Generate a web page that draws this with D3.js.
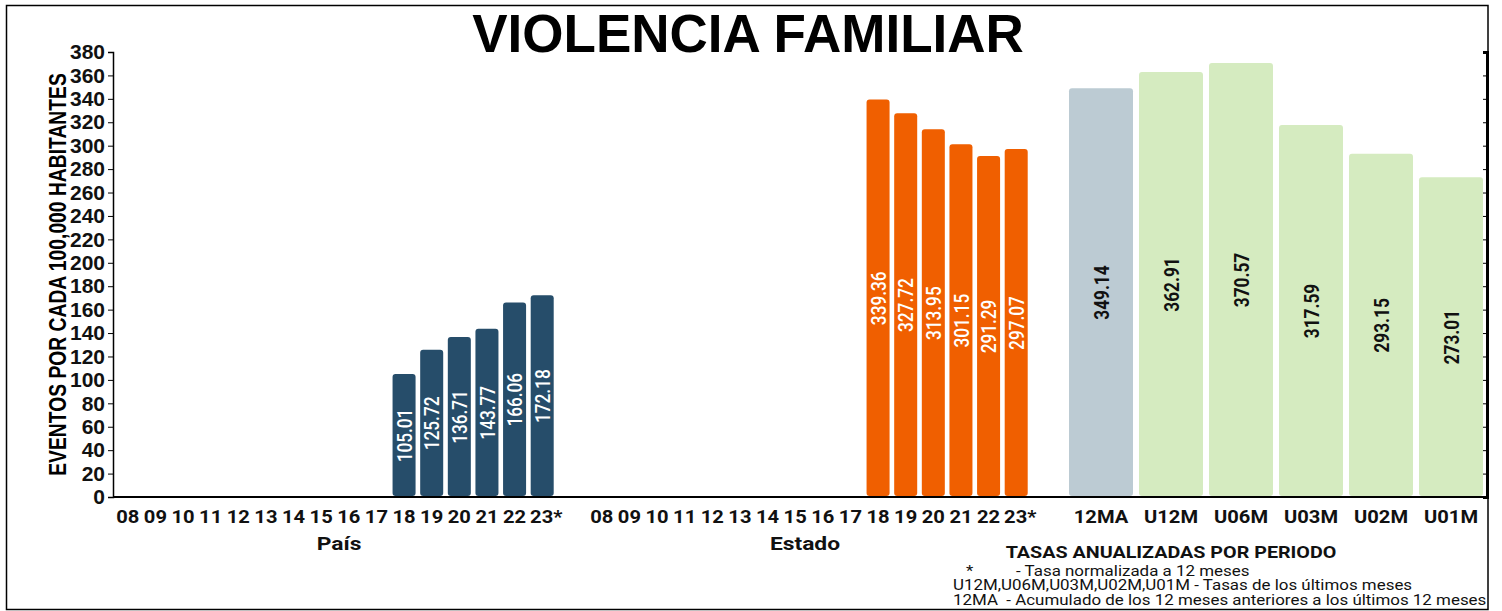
<!DOCTYPE html>
<html>
<head>
<meta charset="utf-8">
<script src="https://cdn.jsdelivr.net/npm/d3@7"></script>
<style>
  body { margin: 0; background: #fff; }
  svg { display: block; }
</style>
</head>
<body>
<div id="chart"></div>
<script>
// years shown on each group axis
const years = ["08", "09", "10", "11", "12", "13", "14", "15", "16", "17", "18", "19", "20", "21", "22", "23*"];
// only the last six years carry data
const paisValues = [null, null, null, null, null, null, null, null, null, null, 105.01, 125.72, 136.71, 143.77, 166.06, 172.18];
const estadoValues = [null, null, null, null, null, null, null, null, null, null, 339.36, 327.72, 313.95, 301.15, 291.29, 297.07];
const periodos = ["12MA", "U12M", "U06M", "U03M", "U02M", "U01M"];
const periodoValues = [349.14, 362.91, 370.57, 317.59, 293.15, 273.01];
const yTicks = d3.range(0, 381, 20);
const notes = [
    ["*", "- Tasa normalizada a 12 meses"],
    ["U12M,U06M,U03M,U02M,U01M", "- Tasas de los últimos meses"],
    ["12MA", "  - Acumulado de los 12 meses anteriores a los últimos 12 meses"]
];

const width = 1502, height = 611;
const yTop = 52, yBottom = 497;
const axisLeft = 113, axisRight = 1487;

const svg = d3.select("#chart").append("svg")
    .attr("width", width)
    .attr("height", height);

// outer frame
svg.append("rect")
    .attr("x", 6.5).attr("y", 5.5)
    .attr("width", 1481.5).attr("height", 604)
    .attr("fill", "none")
    .attr("stroke", "#000")
    .attr("stroke-width", 1.5);

const y = d3.scaleLinear().domain([0, 380]).range([yBottom, yTop]);

const xPais = d3.scaleBand().domain(years).range([114, 556]).paddingInner(0.167).paddingOuter(0.083);
const xEstado = d3.scaleBand().domain(years).range([588, 1030]).paddingInner(0.167).paddingOuter(0.083);
const xPer = d3.scaleBand().domain(periodos).range([1066, 1486]).paddingInner(0.086).paddingOuter(0.043);

// title
svg.append("text")
    .attr("x", 748).attr("y", 52)
    .attr("text-anchor", "middle")
    .attr("font-family", "Liberation Sans, Arial, sans-serif")
    .attr("font-weight", "bold")
    .attr("font-size", 53)
    .text("VIOLENCIA FAMILIAR");

// left y axis
const yAxis = svg.append("g")
    .attr("transform", `translate(${axisLeft},0)`)
    .call(d3.axisLeft(y).tickValues(yTicks).tickSize(5).tickPadding(3));
yAxis.select(".domain").attr("stroke-width", 1.5);
yAxis.selectAll("text")
    .attr("font-family", "Liberation Sans, Arial, sans-serif")
    .attr("font-weight", "bold")
    .attr("font-size", 21)
    .attr("fill", "#111");

// right axis without labels
const yAxisR = svg.append("g")
    .attr("transform", `translate(${axisRight},0)`)
    .call(d3.axisRight(y).tickValues(yTicks).tickSize(-4).tickFormat(""));
yAxisR.select(".domain").attr("stroke-width", 3);

svg.append("text")
    .attr("transform", `translate(58,${(yTop + yBottom) / 2}) rotate(-90) scale(1,1.2)`)
    .attr("text-anchor", "middle")
    .attr("dy", "0.35em")
    .attr("font-family", "Liberation Sans, Arial, sans-serif")
    .attr("font-weight", "bold")
    .attr("font-size", 19.3)
    .text("EVENTOS POR CADA 100,000 HABITANTES");

function drawGroup(xScale, values, color, labelColor, labelWeight) {
    const data = xScale.domain().map((k, i) => ({ key: k, value: values[i] }))
        .filter(d => d.value != null);
    const g = svg.append("g");
    g.selectAll("rect")
        .data(data)
        .enter()
        .append("rect")
        .attr("x", d => xScale(d.key))
        .attr("y", d => y(d.value))
        .attr("width", xScale.bandwidth())
        .attr("height", d => y(0) - y(d.value) - 1)
        .attr("rx", 3)
        .attr("fill", color);
    g.selectAll("text")
        .data(data)
        .enter()
        .append("text")
        .attr("transform", d => `translate(${xScale(d.key) + xScale.bandwidth() / 2},${(y(d.value) + y(0)) / 2}) rotate(-90) scale(0.82,1)`)
        .attr("text-anchor", "middle")
        .attr("dy", "0.36em")
        .attr("font-family", "Roboto, sans-serif")
        .attr("font-weight", labelWeight)
        .attr("font-size", 21)
        .attr("fill", labelColor)
        .text(d => d.value.toFixed(2));
}

drawGroup(xPais, paisValues, "#264d6a", "#fff", 500);
drawGroup(xEstado, estadoValues, "#f05f00", "#fff", 500);

// right panel, first bar grey, rest green
const perData = periodos.map((k, i) => ({ key: k, value: periodoValues[i] }));
const gp = svg.append("g");
gp.selectAll("rect")
    .data(perData)
    .enter()
    .append("rect")
    .attr("x", d => xPer(d.key))
    .attr("y", d => y(d.value))
    .attr("width", xPer.bandwidth())
    .attr("height", d => y(0) - y(d.value) - 1)
    .attr("rx", 3)
    .attr("fill", (d, i) => i === 0 ? "#bccbd3" : "#d5ebc0");
gp.selectAll("text")
    .data(perData)
    .enter()
    .append("text")
    .attr("transform", d => `translate(${xPer(d.key) + xPer.bandwidth() / 2},${(y(d.value) + y(0)) / 2}) rotate(-90) scale(0.82,1)`)
    .attr("text-anchor", "middle")
    .attr("dy", "0.36em")
    .attr("font-family", "Roboto, sans-serif")
    .attr("font-weight", "bold")
    .attr("font-size", 21)
    .attr("fill", "#111")
    .text(d => d.value.toFixed(2));

// x axis line
svg.append("line")
    .attr("x1", axisLeft).attr("x2", axisRight)
    .attr("y1", yBottom).attr("y2", yBottom)
    .attr("stroke", "#000")
    .attr("stroke-width", 2);

function xLabels(xScale, title, titleShift) {
    const g = svg.append("g")
        .attr("font-family", "Roboto, sans-serif")
        .attr("font-weight", "bold")
        .attr("fill", "#111");
    g.selectAll("text")
        .data(xScale.domain())
        .enter()
        .append("text")
        .attr("transform", d => `translate(${xScale(d) + xScale.bandwidth() / 2 + (d.endsWith("*") ? 4 : 0)},523) scale(1.12,1)`)
        .attr("text-anchor", "middle")
        .attr("font-size", 18)
        .text(d => d);
    if (title) {
        const r = xScale.range();
        g.append("text")
            .attr("transform", `translate(${(r[0] + r[1]) / 2 + titleShift},550) scale(1.2,1)`)
            .attr("text-anchor", "middle")
            .attr("font-size", 19)
            .text(title);
    }
}

xLabels(xPais, "País", 4);
xLabels(xEstado, "Estado", -4);
xLabels(xPer, null, 0);

// legend notes
svg.append("text")
    .attr("transform", "translate(1171,558) scale(1.16,1)")
    .attr("text-anchor", "middle")
    .attr("font-family", "Roboto, sans-serif")
    .attr("font-weight", "bold")
    .attr("font-size", 17)
    .attr("fill", "#111")
    .text("TASAS ANUALIZADAS POR PERIODO");

const noteG = svg.append("g")
    .attr("font-family", "Roboto, sans-serif")
    .attr("font-size", 14)
    .attr("fill", "#111");
noteG.append("text").attr("transform", "translate(966,576) scale(1.21,1)").text(notes[0][0]);
noteG.append("text").attr("transform", "translate(1016,576) scale(1.21,1)").text(notes[0][1]);
noteG.append("text").attr("transform", "translate(953,590) scale(1.21,1)")
    .text(notes[1][0] + " " + notes[1][1]);
noteG.append("text").attr("transform", "translate(953,605) scale(1.21,1)")
    .attr("xml:space", "preserve")
    .text(notes[2][0] + notes[2][1]);
</script>
</body>
</html>
